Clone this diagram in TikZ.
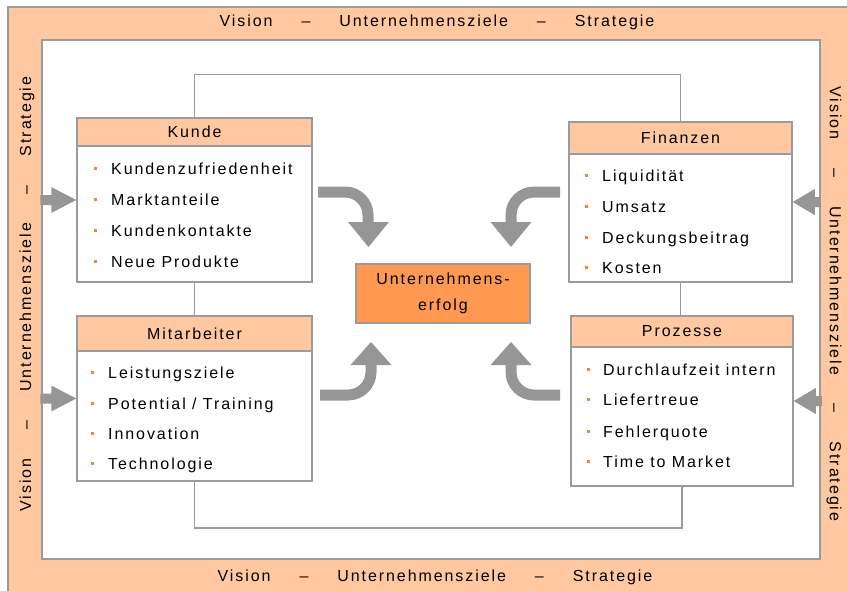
\documentclass[tikz,border=0pt]{standalone}
\usepackage{fontspec}
\setmainfont{Liberation Sans}[LetterSpace=12]
\definecolor{peach}{RGB}{255,200,160}
\definecolor{centerorange}{RGB}{255,153,82}
\definecolor{bulletorange}{RGB}{255,128,48}
\definecolor{boxgray}{RGB}{155,155,155}
\definecolor{arrowgray}{RGB}{150,150,150}
\newcommand{\fs}{\fontsize{16}{18}\selectfont}
\newcommand{\striptext}{Vision\hspace{29pt}–\hspace{29pt}Unternehmensziele\hspace{29pt}–\hspace{29pt}Strategie}
\begin{document}
\begin{tikzpicture}[x=1pt,y=-1pt,
  hdr/.style={draw=boxgray, line width=1.5pt, fill=peach, inner sep=0pt, font=\fs},
  bodybox/.style={draw=boxgray, line width=1.5pt, fill=white, inner sep=0pt},
  item/.style={anchor=base west, inner sep=0pt, font=\fs},
  bul/.style={fill=bulletorange, minimum size=3pt, inner sep=0pt},
  conn/.style={draw=boxgray, line width=1.5pt},
  shaft/.style={draw=arrowgray, line width=11pt},
  headtri/.style={fill=arrowgray},
  strip/.style={inner sep=0pt, font=\fs}]
\useasboundingbox (0,0) rectangle (847,590);
\fill[white] (0,0) rectangle (847,590);
% outer frame
\filldraw[fill=peach, draw=boxgray, line width=2pt] (8,7) rectangle (855,600);
\filldraw[fill=white, draw=boxgray, line width=1.5pt] (42,40) rectangle (820,559);
% strip texts
\node[strip] (sTop) at (437,22) {\striptext};
\node[strip] (sBot) at (435,577) {\striptext};
\node[strip, rotate=90] (sLeft) at (27,294) {\striptext};
\node[strip, rotate=-90] (sRight) at (834,304) {\striptext};
% boxes
\node[bodybox, minimum width=235pt, minimum height=164pt] (kbox) at (194.5,200) {};
\node[hdr, minimum width=235pt, minimum height=28pt] (khdr) at (194.5,132) {Kunde};
\node[bodybox, minimum width=223pt, minimum height=160pt] (fbox) at (680.5,202) {};
\node[hdr, minimum width=223pt, minimum height=32pt] (fhdr) at (680.5,138) {Finanzen};
\node[bodybox, minimum width=235pt, minimum height=165pt] (mbox) at (194.5,398.5) {};
\node[hdr, minimum width=235pt, minimum height=35pt] (mhdr) at (194.5,333.5) {Mitarbeiter};
\node[bodybox, minimum width=222pt, minimum height=170pt] (pbox) at (682,401) {};
\node[hdr, minimum width=222pt, minimum height=31pt] (phdr) at (682,331.5) {Prozesse};
\node[draw=boxgray, line width=1.5pt, fill=centerorange, minimum width=174pt, minimum height=59pt,
      align=center, font=\fs] (erfolg) at (443,293.5) {Unternehmens-\\[8pt]erfolg};
% items Kunde
\node[bul] (kb1) at (95,168) {}; \node[item] (ki1) at (111,174) {Kundenzufriedenheit};
\node[bul] (kb2) at (95,199) {}; \node[item] (ki2) at (111,205) {Marktanteile};
\node[bul] (kb3) at (95,230) {}; \node[item] (ki3) at (111,236) {Kundenkontakte};
\node[bul] (kb4) at (95,261) {}; \node[item] (ki4) at (111,267) {Neue Produkte};
% items Finanzen
\node[bul] (fb1) at (586,175) {}; \node[item] (fi1) at (602,181) {Liquidität};
\node[bul] (fb2) at (586,206) {}; \node[item] (fi2) at (602,212) {Umsatz};
\node[bul] (fb3) at (586,237) {}; \node[item] (fi3) at (602,243) {Deckungsbeitrag};
\node[bul] (fb4) at (586,267) {}; \node[item] (fi4) at (602,273) {Kosten};
% items Mitarbeiter
\node[bul] (mb1) at (92,372) {}; \node[item] (mi1) at (108,378) {Leistungsziele};
\node[bul] (mb2) at (92,403) {}; \node[item] (mi2) at (108,409) {Potential / Training};
\node[bul] (mb3) at (92,433) {}; \node[item] (mi3) at (108,439) {Innovation};
\node[bul] (mb4) at (92,463) {}; \node[item] (mi4) at (108,469) {Technologie};
% items Prozesse
\node[bul] (pb1) at (588,369) {}; \node[item] (pi1) at (603,375) {Durchlaufzeit intern};
\node[bul] (pb2) at (588,399) {}; \node[item] (pi2) at (603,405) {Liefertreue};
\node[bul] (pb3) at (588,431) {}; \node[item] (pi3) at (603,437) {Fehlerquote};
\node[bul] (pb4) at (588,461) {}; \node[item] (pi4) at (603,467) {Time to Market};
% connectors
\draw[conn] (khdr.north) -- ++(0,-43) -| (fhdr.north);
\draw[conn] (kbox.south) -- (mhdr.north);
\draw[conn] (fbox.south) -- (fbox.south |- phdr.north);
\draw[conn] (mbox.south) -- ++(0,46) -| (pbox.south);
% side arrows
\begin{scope}[shift={(kbox.west)}]
\fill[arrowgray] (0,0) -- (-25,-13) -- (-25,-5) -- (-36,-5) -- (-36,5) -- (-25,5) -- (-25,13) -- cycle;
\end{scope}
\begin{scope}[shift={(mbox.west)}]
\fill[arrowgray] (0,0) -- (-25,-13) -- (-25,-5) -- (-36,-5) -- (-36,5) -- (-25,5) -- (-25,13) -- cycle;
\end{scope}
\begin{scope}[shift={(fbox.east)}]
\fill[arrowgray] (0,0) -- (22,-13) -- (22,-5) -- (28,-5) -- (28,5) -- (22,5) -- (22,13) -- cycle;
\end{scope}
\begin{scope}[shift={(pbox.east)}]
\fill[arrowgray] (0,0) -- (22,-13) -- (22,-5) -- (28,-5) -- (28,5) -- (22,5) -- (22,13) -- cycle;
\end{scope}
% curved arrows
\draw[shaft] (318,192) -- (345,192) .. controls (357.7,192) and (368,202.3) .. (368,215) -- (368,224);
\fill[headtri] (348,222) -- (389,222) -- (368.5,247) -- cycle;
\draw[shaft] (560,192) -- (534,192) .. controls (521.3,192) and (511,202.3) .. (511,215) -- (511,224);
\fill[headtri] (490.5,222) -- (531.5,222) -- (511,247) -- cycle;
\draw[shaft] (320,395) -- (348,395) .. controls (360.7,395) and (371,384.7) .. (371,372) -- (371,363);
\fill[headtri] (350.5,365) -- (391.5,365) -- (371,342) -- cycle;
\draw[shaft] (560,395) -- (534,395) .. controls (521.3,395) and (511,384.7) .. (511,372) -- (511,363);
\fill[headtri] (490.5,365) -- (531.5,365) -- (511,342) -- cycle;
\end{tikzpicture}
\end{document}
